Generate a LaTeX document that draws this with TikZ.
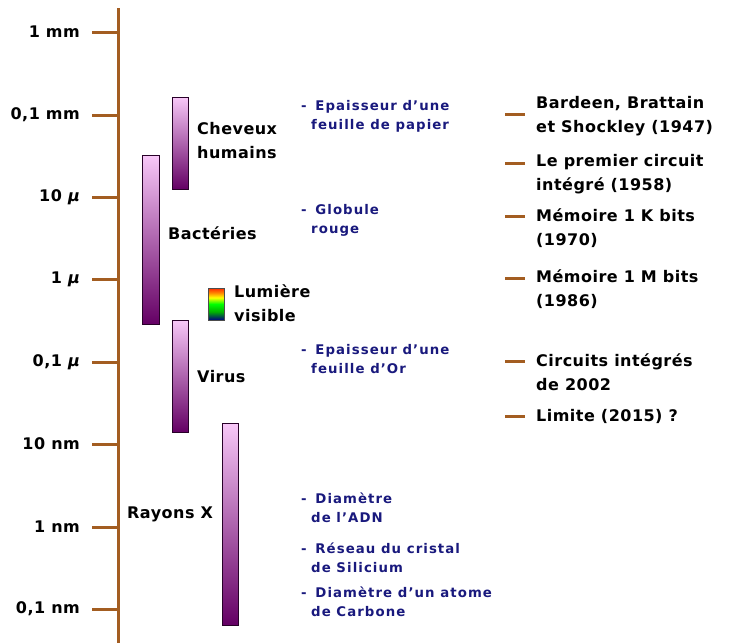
\documentclass[tikz,border=0pt]{standalone}
\usepackage{fontspec}
\setmainfont{DejaVu Sans}[LetterSpace=3]
\newfontfamily\bluefont{DejaVu Sans}[LetterSpace=8]
\definecolor{axisbrown}{RGB}{163,93,33}
\definecolor{navyT}{RGB}{25,25,125}
\definecolor{barTop}{RGB}{248,200,248}
\definecolor{barBot}{RGB}{100,0,100}
\pgfdeclareverticalshading{spectrum}{100bp}{color(0bp)=(blue!50!black); color(25bp)=(blue!50!black); color(38bp)=(green!70!black); color(50bp)=(green); color(60bp)=(yellow); color(68bp)=(orange); color(75bp)=(red!70!orange); color(100bp)=(red!70!orange)}
\newcommand{\bdash}{-\ \hspace{3pt}}
\newcommand{\bind}{\hspace*{10pt}}
\begin{document}
\begin{tikzpicture}[x=1pt,y=-1pt,
 tick/.style={axisbrown, line width=3pt},
 lbl/.style={font=\fontsize{16}{24}\selectfont\bfseries, inner sep=0pt, align=left},
 scl/.style={lbl, anchor=east},
 bl/.style={font=\fontsize{13.3}{19}\selectfont\bluefont\bfseries, text=navyT, inner sep=0pt, align=left, anchor=west},
 bar/.style={draw=black!60!barBot, line width=0.8pt, top color=barTop, bottom color=barBot},
 ]
\useasboundingbox (0,0) rectangle (729,643);
% axis
\coordinate (axtop) at (118,8);
\coordinate (axbot) at (118,643);
\draw[tick] (axtop) -- (axbot);
% scale
\foreach \y/\t/\n in {32/{1 mm}/s1, 115/{0,1 mm}/s2, 197/{10 {\itshape μ}}/s3, 279/{1 {\itshape μ}}/s4, 362/{0,1 {\itshape μ}}/s5, 444/{10 nm}/s6, 527/{1 nm}/s7, 609/{0,1 nm}/s8}{
  \node[scl] (\n) at (80,\y) {\t};
  \coordinate (\n t) at (118,\y);
  \draw[tick] (92,\y) -- (\n t);
}
% bars
\draw[bar] (172,97) rectangle (188,189);
\draw[bar] (142,155) rectangle (159,324);
\draw[bar] (172,320) rectangle (188,432);
\draw[bar] (222,423) rectangle (238,625);
\draw[draw=black!70, line width=0.6pt, shading=spectrum] (208,288) rectangle (224,320);
% black labels
\node[lbl, anchor=west] (chev) at (197,141) {Cheveux\\humains};
\node[lbl, anchor=west] (bact) at (168,233) {Bactéries};
\node[lbl, anchor=west] (lum) at (234,303) {Lumière\\visible};
\node[lbl, anchor=west] (vir) at (197,377) {Virus};
\node[lbl, anchor=west] (ray) at (127,514) {Rayons X};
% blue labels
\node[bl] (b1) at (301,116) {\bdash Epaisseur d’une\\\bind feuille de papier};
\node[bl] (b2) at (301,220) {\bdash Globule\\\bind rouge};
\node[bl] (b3) at (301,359.5) {\bdash Epaisseur d’une\\\bind feuille d’Or};
\node[bl] (b4) at (301,507.5) {\bdash Diamètre\\\bind de l’ADN};
\node[bl] (b5) at (301,558) {\bdash Réseau du cristal\\\bind de Silicium};
\node[bl] (b6) at (301,602) {\bdash Diamètre d’un atome\\\bind de Carbone};
% right list
\foreach \y/\c/\t/\n in {
  114/116/{Bardeen, Brattain\\et Shockley (1947)}/r1,
  163/174/{Le premier circuit\\intégré (1958)}/r2,
  216/228/{Mémoire 1 K bits\\(1970)}/r3,
  278/289.5/{Mémoire 1 M bits\\(1986)}/r4,
  361/372/{Circuits intégrés\\de 2002}/r5,
  416/416/{Limite (2015) ?}/r6}{
  \node[lbl, anchor=west] (\n) at (536,\c) {\t};
  \coordinate (\n a) at (505,\y);
  \coordinate (\n b) at (525,\y);
  \draw[tick] (\n a) -- (\n b);
}
\end{tikzpicture}
\end{document}
